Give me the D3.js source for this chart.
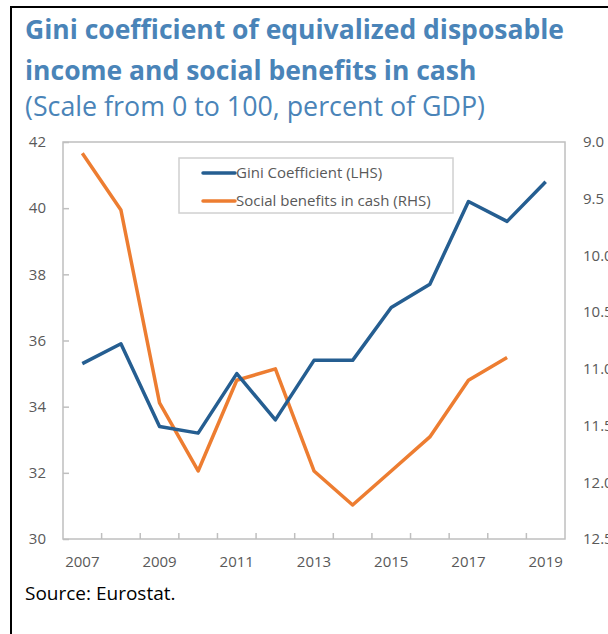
<!DOCTYPE html>
<html>
<head>
<meta charset="utf-8">
<script src="https://cdn.jsdelivr.net/npm/d3@7"></script>
<style>
  body { margin: 0; background: #fff; }
  text { font-family: "Open Sans", "Noto Sans", sans-serif; }
</style>
</head>
<body>
<div id="chart"></div>
<script>
// data
var years = [2007, 2008, 2009, 2010, 2011, 2012, 2013, 2014, 2015, 2016, 2017, 2018, 2019];
var gini = [35.3, 35.9, 33.4, 33.2, 35.0, 33.6, 35.4, 35.4, 37.0, 37.7, 40.2, 39.6, 40.8];
var benefits = [9.1, 9.6, 11.3, 11.9, 11.1, 11.0, 11.9, 12.2, 11.9, 11.6, 11.1, 10.9, null];
var leftTicks = [30, 32, 34, 36, 38, 40, 42];
var rightTicks = [9.0, 9.5, 10.0, 10.5, 11.0, 11.5, 12.0, 12.5];
var labelYears = [2007, 2009, 2011, 2013, 2015, 2017, 2019];

var width = 608,
    height = 634,
    margin = { top: 142, right: 43, bottom: 95, left: 63 },
    innerWidth = width - margin.left - margin.right,
    innerHeight = height - margin.top - margin.bottom,
    blue = "#255e91",
    orange = "#ed7d31",
    titleColor = "#4a84b8",
    tickColor = "#595959",
    axisColor = "#bfbfbf";

var svg = d3.select("#chart").append("svg")
    .attr("width", width)
    .attr("height", height);

svg.append("rect").attr("width", width).attr("height", height).attr("fill", "#fff");

// outer frame (only top and left edges show)
svg.append("rect")
    .attr("x", 11).attr("y", 7)
    .attr("width", width + 10).attr("height", height + 10)
    .attr("fill", "none")
    .attr("stroke", "#000")
    .attr("stroke-width", 2);

// titles
svg.append("text").attr("x", 25).attr("y", 39)
    .attr("fill", titleColor).style("font-weight", "bold").style("font-size", "26.5px")
    .text("Gini coefficient of equivalized disposable");
svg.append("text").attr("x", 25).attr("y", 80)
    .attr("fill", titleColor).style("font-weight", "bold").style("font-size", "26.5px")
    .text("income and social benefits in cash");
svg.append("text").attr("x", 25).attr("y", 116)
    .attr("fill", titleColor).style("font-size", "26.8px")
    .text("(Scale from 0 to 100, percent of GDP)");

var g = svg.append("g")
    .attr("transform", "translate(" + margin.left + "," + margin.top + ")");

var xScale = d3.scaleBand().domain(years).range([0, innerWidth]);
var yLeft = d3.scaleLinear().domain([30, 42]).range([innerHeight, 0]);
var yRight = d3.scaleLinear().domain([9, 12.5]).range([0, innerHeight]);

// plot frame
g.append("rect")
    .attr("width", innerWidth).attr("height", innerHeight)
    .attr("fill", "none").attr("stroke", axisColor).attr("stroke-width", 1.5);

// left axis
var leftAxis = g.append("g")
    .call(d3.axisLeft(yLeft).tickValues(leftTicks).tickSize(-6).tickPadding(17).tickFormat(d3.format("d")));
leftAxis.select(".domain").remove();

// right axis
var rightAxis = g.append("g")
    .attr("transform", "translate(" + innerWidth + ",0)")
    .call(d3.axisRight(yRight).tickValues(rightTicks).tickSize(0).tickPadding(18).tickFormat(d3.format(".1f")));
rightAxis.select(".domain").remove();

// bottom axis: ticks between categories
var bottomAxis = g.append("g")
    .attr("transform", "translate(0," + innerHeight + ")")
    .call(d3.axisBottom(xScale).tickValues(labelYears).tickSize(0).tickPadding(17));
bottomAxis.select(".domain").remove();

g.selectAll(".xtick")
    .data(years.slice(1))
    .enter().append("line")
    .attr("class", "xtick")
    .attr("x1", function(d) { return xScale(d); })
    .attr("x2", function(d) { return xScale(d); })
    .attr("y1", innerHeight)
    .attr("y2", innerHeight - 6)
    .attr("stroke", axisColor).attr("stroke-width", 1.5);

g.selectAll(".tick line").attr("stroke", axisColor).attr("stroke-width", 1.5);
g.selectAll(".tick text").attr("fill", tickColor).style("font-size", "15px");

var cx = function(d, i) { return xScale(years[i]) + xScale.bandwidth() / 2; };

var lineLeft = d3.line()
    .x(cx)
    .y(function(d) { return yLeft(d); });

var lineRight = d3.line()
    .defined(function(d) { return d != null; })
    .x(cx)
    .y(function(d) { return yRight(d); });

g.append("path").datum(benefits)
    .attr("d", lineRight)
    .attr("fill", "none").attr("stroke", orange).attr("stroke-width", 3.5)
    .attr("stroke-linejoin", "round");

g.append("path").datum(gini)
    .attr("d", lineLeft)
    .attr("fill", "none").attr("stroke", blue).attr("stroke-width", 3.5)
    .attr("stroke-linejoin", "round");

// legend
var legend = svg.append("g").attr("transform", "translate(179,158)");
legend.append("rect")
    .attr("width", 274).attr("height", 55)
    .attr("fill", "#fff").attr("stroke", "#d0d0d0").attr("stroke-width", 1.5);

var legendItems = [
    { name: "Gini Coefficient (LHS)", color: blue },
    { name: "Social benefits in cash (RHS)", color: orange }
];

var item = legend.selectAll(".item").data(legendItems).enter().append("g")
    .attr("transform", function(d, i) { return "translate(0," + (15 + i * 28) + ")"; });
item.append("line")
    .attr("x1", 24).attr("x2", 56)
    .attr("stroke", function(d) { return d.color; })
    .attr("stroke-width", 3.5).attr("stroke-linecap", "round");
item.append("text")
    .attr("x", 57).attr("dy", "0.35em")
    .attr("fill", tickColor).style("font-size", "15px")
    .text(function(d) { return d.name; });

// source
svg.append("text").attr("x", 25).attr("y", 600)
    .attr("fill", "#000").style("font-size", "19px")
    .text("Source: Eurostat.");
</script>
</body>
</html>
